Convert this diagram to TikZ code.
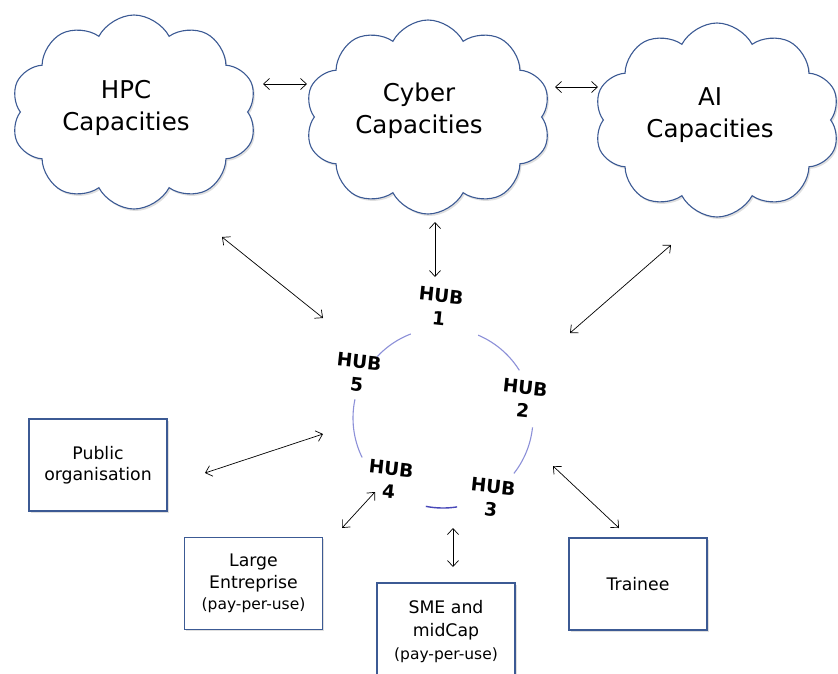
\documentclass[tikz,border=0pt]{standalone}
\usepackage{fontspec}
\setmainfont{DejaVu Sans}
\usetikzlibrary{shapes.symbols,shadows,arrows.meta}
\definecolor{edgeblue}{HTML}{3C5A94}
\definecolor{arcblue}{HTML}{8C90D8}
\definecolor{arcdark}{HTML}{4848B8}
\tikzset{
  cloudbox/.style={cloud, cloud puffs=10, cloud puff arc=125, aspect=1.27,
    draw=edgeblue, line width=1.1pt, fill=white, minimum width=246pt, minimum height=194pt,
    inner sep=0pt, drop shadow={shadow xshift=1.5pt, shadow yshift=-2pt, opacity=0.25}},
  cloudtext/.style={align=center, font=\fontsize{24.5}{32}\selectfont, text=black},
  actor/.style={rectangle, draw=edgeblue, line width=1.3pt, fill=white,
    minimum width=138pt, minimum height=92pt, align=center, inner sep=2pt,
    font=\fontsize{17.3}{21.5}\selectfont,
    drop shadow={shadow xshift=1.5pt, shadow yshift=-1.5pt, opacity=0.25}},
  hub/.style={align=center, font=\bfseries\fontsize{18.5}{23}\selectfont, rotate=-6, inner sep=1pt},
  link/.style={draw=black, line width=0.7pt, {Straight Barb[length=6pt,width=11pt]}-{Straight Barb[length=6pt,width=11pt]}},
  hubarc/.style={draw=arcblue, line width=1.1pt}
}
\newcommand{\ppu}{{\fontsize{15.5}{20}\selectfont(pay-per-use)}}
\begin{document}
\begin{tikzpicture}[x=1pt,y=-1pt]
\useasboundingbox (0,0) rectangle (838,673);
\clip (0,0) rectangle (838,673);
% clouds
\node[cloudbox] (hpc) at (134,112) {};
\node[cloudtext] (hpct) at (126,108) {HPC\\Capacities};
\node[cloudbox] (cyber) at (428,117) {};
\node[cloudtext] (cybert) at (419,111) {Cyber\\Capacities};
\node[cloudbox] (ai) at (717,120) {};
\node[cloudtext] (ait) at (710,115) {AI\\Capacities};
% hubs
\coordinate (ring) at (443,418);
\node[hub] (h1) at (440,307) {HUB\\1};
\node[hub] (h2) at (524,399) {HUB\\2};
\node[hub] (h3) at (492,498) {HUB\\3};
\node[hub] (h4) at (390,480) {HUB\\4};
\node[hub] (h5) at (358,373) {HUB\\5};
\draw[hubarc] (ring) ++(-67:90) arc[start angle=-67, end angle=-32, radius=90];
\draw[hubarc] (ring) ++(6:90) arc[start angle=6, end angle=38, radius=90];
\draw[draw=arcdark, line width=1.4pt] (ring) ++(81:90) arc[start angle=81, end angle=101, radius=90];
\draw[hubarc] (ring) ++(154:90) arc[start angle=154, end angle=192, radius=90];
\draw[hubarc] (ring) ++(-137:90) arc[start angle=-137, end angle=-111, radius=90];
% actors
\node[actor] (pub) at (98,465) {Public\\organisation};
\node[actor] (large) at (253.5,583.5) {Large\\Entreprise\\\ppu};
\node[actor, minimum height=98pt, font=\fontsize{17.3}{23}\selectfont] (sme) at (446,632) {SME and\\midCap\\\ppu};
\node[actor] (trainee) at (638,584) {Trainee};
% connector end points
\coordinate (a1) at (263,84);   \coordinate (a2) at (307,84);
\coordinate (b1) at (555,87);   \coordinate (b2) at (598,87);
\coordinate (c1) at (435,222);  \coordinate (c2) at (435,277);
\coordinate (d1) at (222,237);  \coordinate (d2) at (323,318);
\coordinate (e1) at (671,245);  \coordinate (e2) at (570,333);
\coordinate (f1) at (205,473);  \coordinate (f2) at (323,434);
\coordinate (g1) at (342,528);  \coordinate (g2) at (375,492);
\coordinate (k1) at (453,528);  \coordinate (k2) at (453,567);
\coordinate (m1) at (553,466);  \coordinate (m2) at (619,528);
\draw[link] (a1) -- (a2);
\draw[link] (b1) -- (b2);
\draw[link] (c1) -- (c2);
\draw[link] (d1) -- (d2);
\draw[link] (e1) -- (e2);
\draw[link] (f1) -- (f2);
\draw[link] (g1) -- (g2);
\draw[link] (k1) -- (k2);
\draw[link] (m1) -- (m2);
\end{tikzpicture}
\end{document}
